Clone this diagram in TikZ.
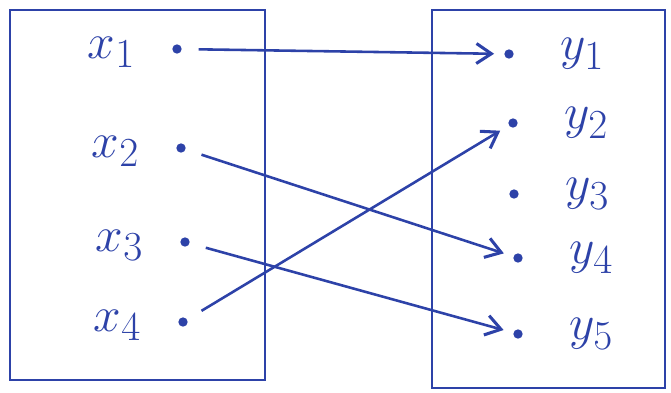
\documentclass[tikz,border=0pt]{standalone}
\usepackage{amsmath,amssymb}
\usepackage{xcolor}
\usepackage{tikz}
\usetikzlibrary{arrows.meta,positioning}

\definecolor{pen}{RGB}{45,66,168}
\newcommand{\elt}[1]{\scalebox{1.7}{$#1$}}

\begin{document}
\begin{tikzpicture}[x=0.03cm,y=-0.03cm,
    pt/.style={circle,fill=pen,minimum size=0.28cm,inner sep=0pt},
    lbl/.style={text=pen,font=\Huge,inner sep=0pt},
    map/.style={->,pen,line width=2.2pt,shorten >=3mm,shorten <=5mm},
    >={Straight Barb[length=4.5mm,width=6mm,line width=2.6pt]}]
  \useasboundingbox (0,0) rectangle (671,393);
  \draw[pen,line width=2.4pt] (10,10) rectangle (265,380);
  \draw[pen,line width=2.4pt] (432,10) rectangle (665,388);
  % domain
  \node[pt] (x1) at (177,49) {};
  \node[pt] (x2) at (181,148) {};
  \node[pt] (x3) at (185,242) {};
  \node[pt] (x4) at (183,322) {};
  \foreach \i in {1,...,4} \node[lbl,left=1.1cm of x\i,yshift=-0.1cm] {\elt{x_{\i}}};
  % codomain
  \node[pt] (y1) at (509,54) {};
  \node[pt] (y2) at (513,123) {};
  \node[pt] (y3) at (514,194) {};
  \node[pt] (y4) at (518,258) {};
  \node[pt] (y5) at (518,334) {};
  \foreach \j in {1,...,5} \node[lbl,right=1.4cm of y\j] {\elt{y_{\j}}};
  \draw[map] (x1) -- (y1);
  \draw[map] (x2) -- (y4);
  \draw[map] (x3) -- (y5);
  \draw[map] (x4) -- (y2);
\end{tikzpicture}
\end{document}
